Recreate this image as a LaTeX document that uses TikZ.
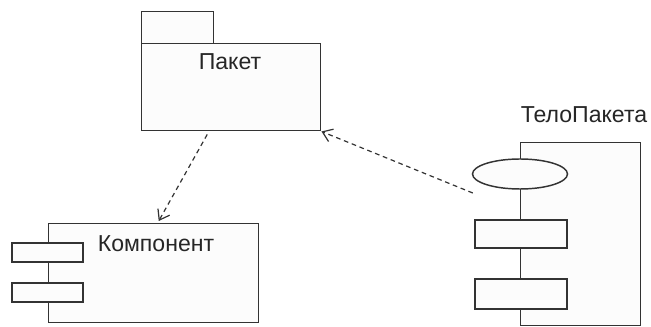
\documentclass[tikz,border=0pt]{standalone}
\usepackage{fontspec}
\setmainfont{Liberation Sans}
\usetikzlibrary{arrows.meta,shapes.geometric,calc}
\definecolor{umlline}{HTML}{333333}
\definecolor{umlfill}{HTML}{FCFCFC}
\begin{document}
\begin{tikzpicture}[x=0.75pt,y=-0.75pt,
% common options for boxes:
box/.style = {rectangle, draw=umlline, fill=umlfill, line width=1.1pt,
            inner sep=0, anchor=north west},
% common options for the small parts:
part/.style = {rectangle, draw=umlline, fill=umlfill, line width=1.1pt, inner sep=0},
% common options for the dependencies:
dep/.style = {draw=umlline, line width=0.9pt, dash pattern=on 3.5pt off 2.8pt,
            -{Straight Barb[length=7pt,width=10pt]}},
lbl/.style = {font=\fontsize{17.3}{20}\selectfont, text=black!85, anchor=base, inner sep=0}]
\useasboundingbox (0,0) rectangle (651,327);
% package
\node[box, minimum width=54pt, minimum height=24pt] (tab) at (141,11) {};
\node[box, minimum width=134.25pt, minimum height=65.25pt] (pkg) at (141,43) {};
\node[lbl] (pkgname) at (230,70) {Пакет};
% component
\node[box, minimum width=157.5pt, minimum height=74.25pt] (comp) at (48,223) {};
\node[part, minimum width=53.25pt, minimum height=14.25pt] (port1) at (47.5,252.5) {};
\node[part, minimum width=53.25pt, minimum height=14.25pt] (port2) at (47.5,292.5) {};
\node[lbl] (compname) at (156,252) {Компонент};
% package body
\node[box, minimum width=90pt, minimum height=137.25pt] (body) at (520,142) {};
\node[part, ellipse, minimum width=71.25pt, minimum height=22.5pt] (ell) at (520,174) {};
\node[part, minimum width=69pt, minimum height=21pt] (op1) at (521,234) {};
\node[part, minimum width=69pt, minimum height=22.5pt] (op2) at (521,294) {};
\node[lbl] (bodyname) at (584,123) {ТелоПакета};
% dependencies
\coordinate (dstart) at ($(pkg.south)+(-24,3)$);
\coordinate (dend) at ($(comp.north)+(5,-2)$);
\draw[dep] (dstart) -- (dend);
\coordinate (bstart) at ($(ell.west)+(1,19)$);
\draw[dep] (bstart) -- (pkg.south east);
\end{tikzpicture}
\end{document}
